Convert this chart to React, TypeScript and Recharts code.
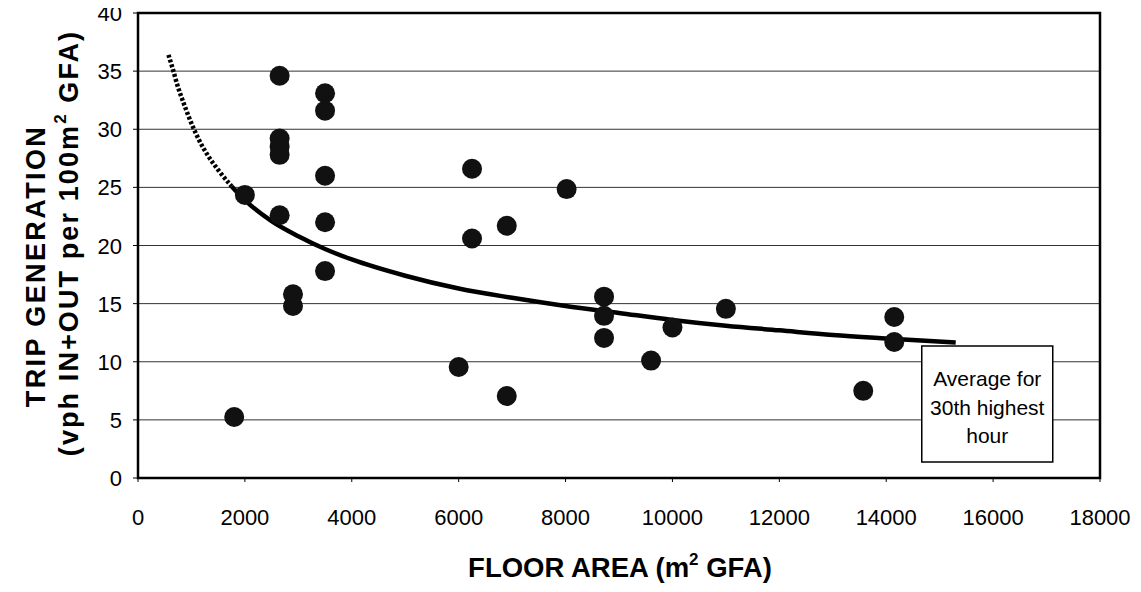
import React from 'react';
import { ComposedChart, XAxis, YAxis, CartesianGrid, Line, Scatter, ReferenceArea } from 'recharts';

const xTicks = [0, 2000, 4000, 6000, 8000, 10000, 12000, 14000, 16000, 18000];
const yTicks = [0, 5, 10, 15, 20, 25, 30, 35, 40];

const floorArea = [1800, 2000, 2650, 2650, 2650, 2650, 2650, 2900, 2900, 3500, 3500, 3500, 3500, 3500, 6000, 6250, 6250, 6900, 6900, 8020, 8720, 8720, 8720, 9600, 10000, 11000, 13570, 14150, 14150];
const tripRate = [5.25, 24.35, 34.6, 29.2, 28.5, 27.8, 22.6, 15.8, 14.8, 33.1, 31.6, 26.0, 22.0, 17.8, 9.55, 26.6, 20.6, 21.7, 7.05, 24.85, 15.6, 13.95, 12.05, 10.1, 12.95, 14.55, 7.5, 13.85, 11.7];

const curveAreaDashed = [570, 650, 750, 850, 1000, 1150, 1300, 1500, 1750];
const curveRateDashed = [36.4, 35.2, 33.6, 32.3, 30.5, 29.0, 27.8, 26.5, 25.1];
const curveAreaSolid = [1750, 2000, 2500, 3000, 3500, 4000, 5000, 6000, 7000, 8000, 9000, 10000, 11000, 12000, 13000, 14000, 15300];
const curveRateSolid = [25.1, 23.9, 22.1, 20.8, 19.7, 18.8, 17.4, 16.3, 15.5, 14.8, 14.2, 13.6, 13.1, 12.7, 12.3, 12.0, 11.65];

const boxLines = ['Average for', '30th highest', 'hour'];

const points = floorArea.map((x, i) => ({ x, y: tripRate[i] }));
const curveDashed = curveAreaDashed.map((x, i) => ({ x, y: curveRateDashed[i] }));
const curveSolid = curveAreaSolid.map((x, i) => ({ x, y: curveRateSolid[i] }));

const FONT = '"Liberation Sans", Arial, sans-serif';

const XTick = (props: any) => {
  const { x, y, payload } = props;
  return (
    <text x={x} y={y} dy={43} textAnchor="middle" fontSize={22} fontFamily={FONT} fill="#000">
      {payload.value}
    </text>
  );
};

const YTick = (props: any) => {
  const { x, y, payload } = props;
  return (
    <text x={x} y={y} dy={8} textAnchor="end" fontSize={22} fontFamily={FONT} fill="#000">
      {payload.value}
    </text>
  );
};

const Dot = (props: any) => {
  const { cx, cy } = props;
  if (cx == null || cy == null) return null;
  return <circle cx={cx} cy={cy} r={10} fill="#111" />;
};

const renderYLabel = () => (
  <g fontFamily={FONT} fontWeight="bold" fill="#000">
    <text transform="translate(45,266) rotate(-90)" textAnchor="middle" fontSize={27} letterSpacing={2.4}>
      TRIP GENERATION
    </text>
    <text transform="translate(78,243) rotate(-90)" textAnchor="middle" fontSize={27} letterSpacing={2.1}>
      (vph IN+OUT per 100m<tspan fontSize={17} dy={-12}>2</tspan><tspan dy={12}> GFA)</tspan>
    </text>
  </g>
);

const renderXLabel = () => (
  <text x={620} y={577} textAnchor="middle" fontFamily={FONT} fontWeight="bold" fontSize={27.5} fill="#000">
    FLOOR AREA (m<tspan fontSize={17} dy={-12}>2</tspan><tspan dy={12}> GFA)</tspan>
  </text>
);

const renderBoxText = (props: any) => {
  const vb = props.viewBox || {};
  const cx = vb.x + vb.width / 2;
  const top = vb.y;
  const offs = [39.8, 68.8, 97.3];
  return (
    <g>
      {boxLines.map((t, i) => (
        <text key={i} x={cx} y={top + offs[i]} textAnchor="middle" fontSize={21} fontFamily={FONT} fill="#000">
          {t}
        </text>
      ))}
    </g>
  );
};

export default function App() {
  return (
    <div style={{ fontFamily: FONT, background: '#fff', margin: '-8px 0 0 -8px', width: 1141, height: 584 }}>
      <ComposedChart width={1141} height={584} margin={{ top: 13, right: 41, bottom: 0, left: 0 }}>
        <CartesianGrid horizontal vertical={false} stroke="#333" strokeWidth={1} />
        <XAxis
          type="number"
          dataKey="x"
          domain={[0, 18000]}
          ticks={xTicks}
          interval={0}
          height={106}
          tickSize={4}
          tickMargin={0}
          tick={<XTick />}
          tickLine={{ stroke: '#000' }}
          axisLine={{ stroke: '#000', strokeWidth: 2 }}
          allowDataOverflow
          label={{ content: renderXLabel }}
        />
        <YAxis
          type="number"
          dataKey="y"
          domain={[0, 40]}
          ticks={yTicks}
          interval={0}
          width={138}
          tickSize={5}
          tickMargin={11}
          tick={<YTick />}
          tickLine={{ stroke: '#000' }}
          axisLine={{ stroke: '#000', strokeWidth: 2 }}
          allowDataOverflow
          label={{ content: renderYLabel }}
        />
        <ReferenceArea
          x1={14665}
          x2={17116}
          y1={1.38}
          y2={11.36}
          fill="#fff"
          fillOpacity={1}
          stroke="#000"
          strokeWidth={1.5}
          label={{ content: renderBoxText }}
        />
        <Line
          data={curveDashed}
          dataKey="y"
          type="monotone"
          dot={false}
          activeDot={false}
          stroke="#000"
          strokeWidth={4.5}
          strokeDasharray="3 2"
          isAnimationActive={false}
        />
        <Line
          data={curveSolid}
          dataKey="y"
          type="monotone"
          dot={false}
          activeDot={false}
          stroke="#000"
          strokeWidth={4.5}
          isAnimationActive={false}
        />
        <Scatter data={points} dataKey="y" fill="#111" shape={<Dot />} isAnimationActive={false} />
        <ReferenceArea x1={0} x2={18000} y1={0} y2={40} fill="none" stroke="#000" strokeWidth={2.5} />
      </ComposedChart>
    </div>
  );
}
